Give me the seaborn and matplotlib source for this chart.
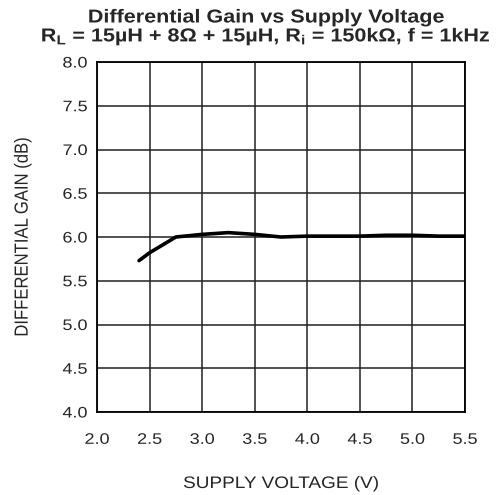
import matplotlib
matplotlib.use("Agg")
import matplotlib.pyplot as plt
import seaborn as sns
import pandas as pd
from matplotlib.patheffects import AbstractPathEffect
from matplotlib.transforms import Affine2D

# Supply voltage (V) and differential gain (dB)
supply_v = [2.4, 2.5, 2.75, 3.0, 3.25, 3.5, 3.75, 4.0, 4.25, 4.5, 4.75, 5.0, 5.25, 5.5]
gain_db = [5.73, 5.82, 6.0, 6.03, 6.05, 6.03, 6.0, 6.01, 6.01, 6.01, 6.02, 6.02, 6.01, 6.01]

x_ticks = [2.0, 2.5, 3.0, 3.5, 4.0, 4.5, 5.0, 5.5]
y_ticks = [4.0, 4.5, 5.0, 5.5, 6.0, 6.5, 7.0, 7.5, 8.0]


class HStretch(AbstractPathEffect):
    """Widen text horizontally around an anchor (the reference text is wide)."""

    def __init__(self, sx=1.18, anchor="center"):
        super().__init__()
        self.sx = sx
        self.anchor = anchor

    def draw_path(self, renderer, gc, tpath, affine, rgbFace=None):
        ext = tpath.transformed(affine).get_extents()
        if self.anchor == "right":
            x0 = ext.x1
        elif self.anchor == "left":
            x0 = ext.x0
        else:
            x0 = (ext.x0 + ext.x1) / 2
        new = affine + Affine2D().translate(-x0, 0).scale(self.sx, 1).translate(x0, 0)
        renderer.draw_path(gc, tpath, new, rgbFace)


df = pd.DataFrame({"v": supply_v, "gain": gain_db})

sns.set_style("white")
plt.rcParams["font.family"] = ["Liberation Sans", "DejaVu Sans"]
plt.rcParams["mathtext.default"] = "regular"

fig = plt.figure(figsize=(4.98, 4.95), dpi=100)
ax = fig.add_axes([97 / 498, 1 - 412 / 495, 368 / 498, 350 / 495])

sns.lineplot(data=df, x="v", y="gain", color="black", linewidth=2.6, ax=ax)

ax.set_xlim(2.0, 5.5)
ax.set_ylim(4.0, 8.0)
ax.set_xticks(x_ticks)
ax.set_yticks(y_ticks)
xl = ax.set_xticklabels([f"{t:.1f}" for t in x_ticks], fontsize=11)
yl = ax.set_yticklabels([f"{t:.1f}" for t in y_ticks], fontsize=11)
ax.tick_params(axis="x", length=0, pad=15)
ax.tick_params(axis="y", length=0, pad=7)
for t in xl:
    t.set_path_effects([HStretch(1.18, "center")])
for t in yl:
    t.set_path_effects([HStretch(1.18, "right")])

ax.grid(True, color="#222222", linewidth=1.1)
for s in ax.spines.values():
    s.set_color("black")
    s.set_linewidth(1.3)

xlab = ax.set_xlabel("SUPPLY VOLTAGE (V)", fontsize=12, labelpad=21)
ylab = ax.set_ylabel("DIFFERENTIAL GAIN (dB)", fontsize=12, labelpad=26)
xlab.set_path_effects([HStretch(1.14)])
ylab.set_path_effects([HStretch(1.14)])

t1 = fig.text(266 / 498, 1 - 18 / 495, "Differential Gain vs Supply Voltage",
              ha="center", va="center", fontsize=13.5, fontweight="bold")
t2 = fig.text(266 / 498, 1 - 37 / 495,
              "R$_L$ = 15µH + 8Ω + 15µH, R$_i$ = 150kΩ, f = 1kHz",
              ha="center", va="center", fontsize=13.5, fontweight="bold")
t1.set_path_effects([HStretch(1.15)])
t2.set_path_effects([HStretch(1.15)])

fig.savefig("out.png", dpi=100)
